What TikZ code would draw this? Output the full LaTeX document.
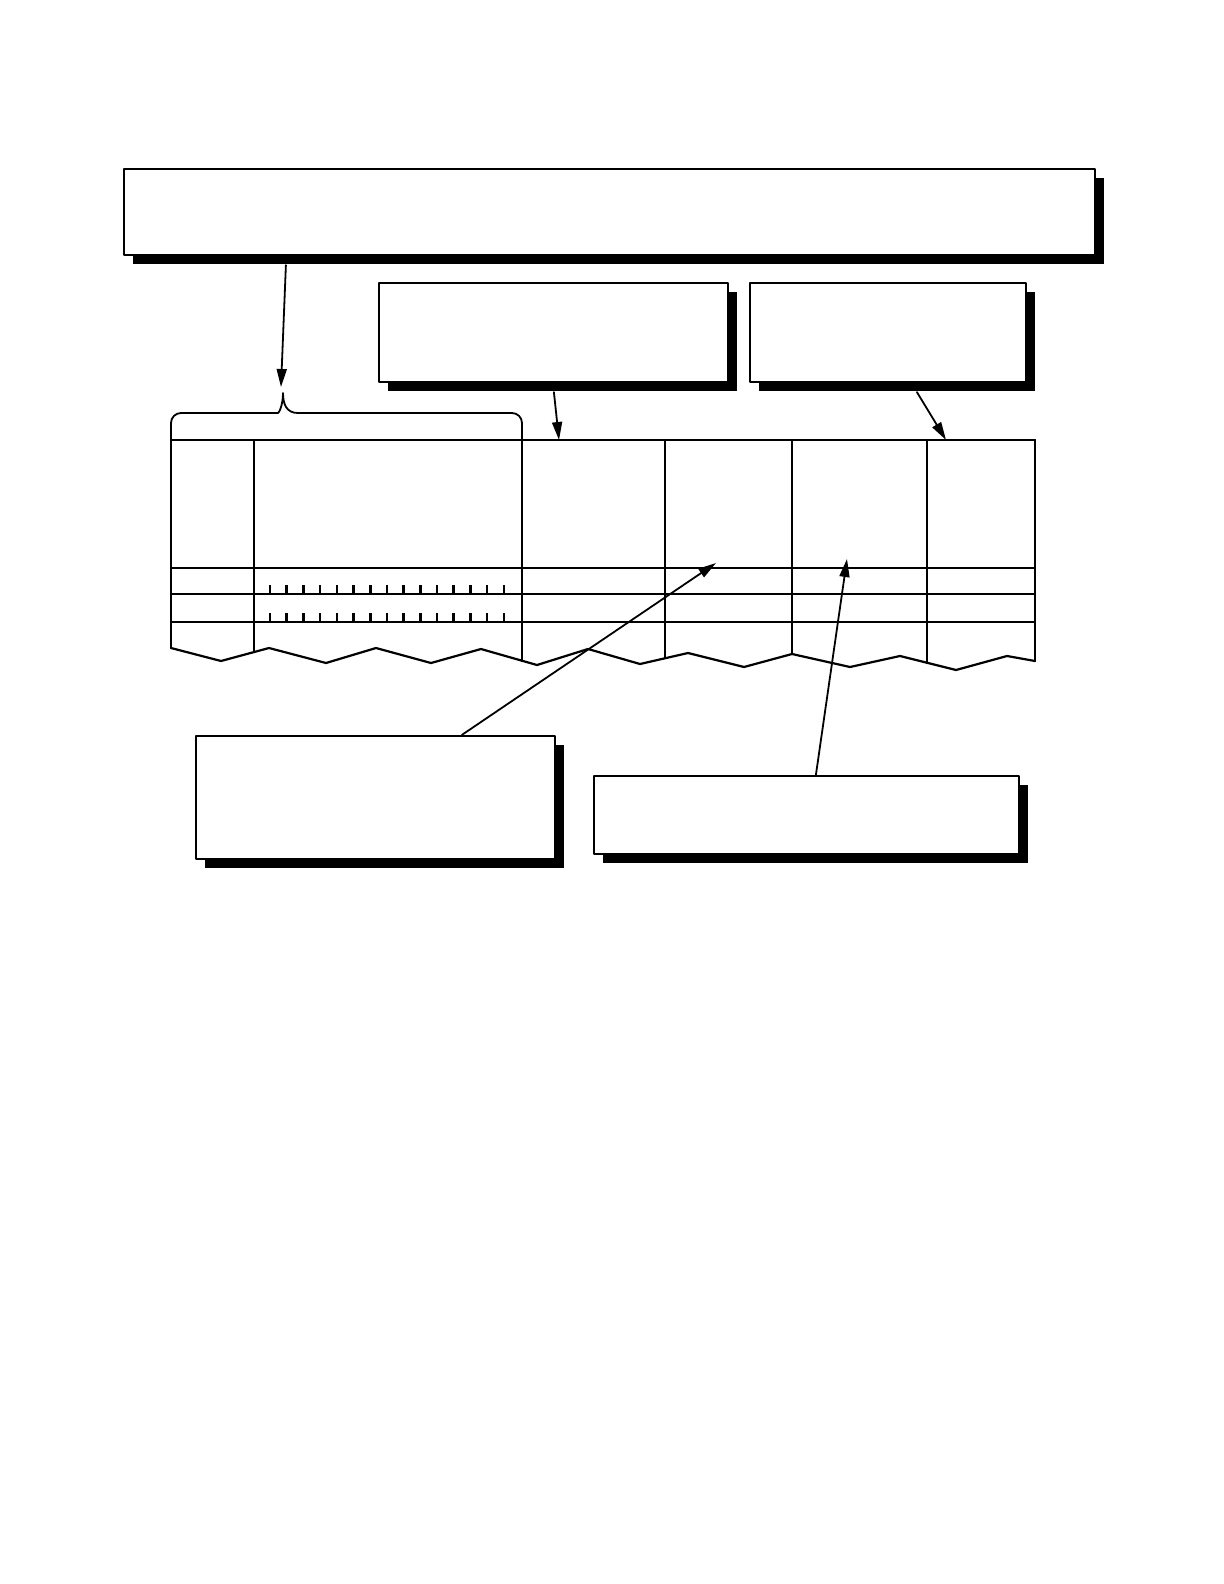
\documentclass[tikz,border=0pt]{standalone}
\usetikzlibrary{arrows.meta,shadows,calc}
\begin{document}
\begin{tikzpicture}[x=0.5pt,y=-0.5pt,line join=round,line cap=round,
	>={Triangle[length=9pt,width=5pt]},
	box/.style={draw,fill=white,line width=1.1pt,inner sep=0pt,
		drop shadow={shadow xshift=4.5pt,shadow yshift=-4.5pt,opacity=1,fill=black}},
	grid/.style={line width=1.1pt},
	arr/.style={->,line width=0.9pt}]
	\useasboundingbox (0,0) rectangle (1224,1584);
	% boxes
	\node[box,minimum width=485.5pt,minimum height=43pt] (top) at (609.5,212) {};
	\node[box,minimum width=174.5pt,minimum height=49.5pt] (mid) at (553.5,332.5) {};
	\node[box,minimum width=138pt,minimum height=49.5pt] (right) at (888,332.5) {};
	\node[box,minimum width=179.5pt,minimum height=61.5pt] (low) at (375.5,797.5) {};
	\node[box,minimum width=212.5pt,minimum height=39pt] (lowright) at (806.5,815) {};
	% table
	\def\ytop{440}
	\draw[grid] (171,\ytop)--(1035,\ytop);
	\draw[grid] (171,568)--(1035,568);
	\draw[grid] (171,594)--(1035,594);
	\draw[line width=0.6pt] (171,622)--(1035,622);
	\foreach \x/\yb in {171/648,254/652,522/661,665/658,792/654,927/663,1035/661}
		\draw[grid] (\x,\ytop)--(\x,\yb);
	\draw[grid] (171,648)--(221,661)--(269,648)--(326,663)--(376,648)--(431,663)
		--(481,649)--(537,665)--(588,649)--(640,664)--(688,653)--(744,667)
		--(792,654)--(850,667)--(900,656)--(956,670)--(1007,656)--(1035,661);
	% ticks
	\foreach \i in {0,...,14}{
		\draw[line width=1.3pt,line cap=butt] ({270+16.7*\i},585)--({270+16.7*\i},594);
		\draw[line width=1.3pt,line cap=butt] ({270+16.7*\i},613)--({270+16.7*\i},622);
	}
	% brace
	\draw[line width=0.9pt,rounded corners=5pt] (171,440)--(171,413)--(268,413)
		[sharp corners] .. controls (279,413) and (283,405) .. (283,393)
		.. controls (283,405) and (287,413) .. (298,413)
		[rounded corners=5pt] --(522,413)--(522,440);
	% arrows
	\coordinate (bracetip) at (281,387);
	\coordinate (colB) at (559,440);
	\coordinate (colF) at (946,440);
	\coordinate (cellC) at (716,563);
	\coordinate (cellD) at (847,559);
	\draw[arr] ($(top.south west)+(163,9)$)--(bracetip);
	\draw[arr] ($(mid.south west)+(176,9)$)--(colB);
	\draw[arr] ($(right.south west)+(168,9)$)--(colF);
	\draw[arr] ($(low.north west)+(267,0)$)--(cellC);
	\draw[arr] ($(lowright.north west)+(223,0)$)--(cellD);
\end{tikzpicture}
\end{document}
